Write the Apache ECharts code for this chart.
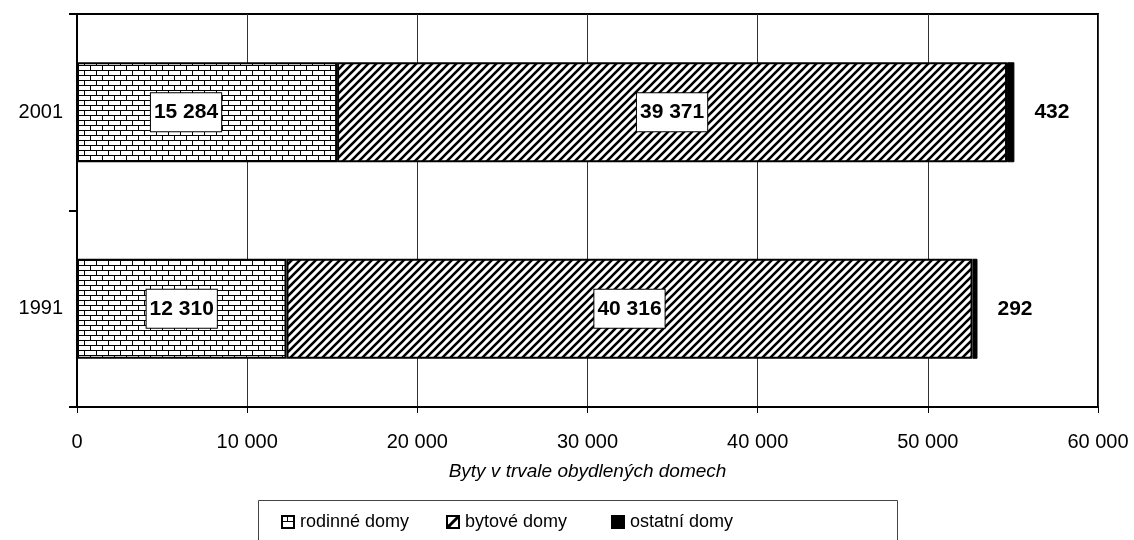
<!DOCTYPE html>
<html>
<head>
<meta charset="utf-8">
<script src="https://cdn.jsdelivr.net/npm/echarts@6/dist/echarts.min.js"></script>
<style>
html,body{margin:0;padding:0;background:#fff;}
#chart{width:1134px;height:540px;}
</style>
</head>
<body>
<div id="chart"></div>
<script>
var categories = ['1991', '2001'];
var seriesNames = ['rodinné domy', 'bytové domy', 'ostatní domy'];
var rodinne = [12310, 15284];
var bytove = [40316, 39371];
var ostatni = [292, 432];
var xTicks = [0, 10000, 20000, 30000, 40000, 50000, 60000];
var axisTitle = 'Byty v trvale obydlených domech';

var FONT = '"Liberation Sans", Arial, sans-serif';

function fmt(v) {
  return String(v).replace(/\B(?=(\d{3})+(?!\d))/g, ' ');
}

function makeCanvas(w, h) {
  var c = document.createElement('canvas');
  c.width = w; c.height = h;
  return c;
}

// brick pattern
var brick = makeCanvas(12, 10);
(function () {
  var g = brick.getContext('2d');
  g.fillStyle = '#fff'; g.fillRect(0, 0, 12, 10);
  g.fillStyle = '#000';
  g.fillRect(0, 0, 12, 1);
  g.fillRect(0, 5, 12, 1);
  g.fillRect(0, 0, 1, 5);
  g.fillRect(6, 5, 1, 5);
})();

// diagonal stripes
var stripe = makeCanvas(8, 8);
(function () {
  var g = stripe.getContext('2d');
  g.fillStyle = '#fff'; g.fillRect(0, 0, 8, 8);
  g.strokeStyle = '#000'; g.lineWidth = 2.6;
  g.beginPath();
  g.moveTo(-2, 10); g.lineTo(10, -2);
  g.moveTo(-2, 2); g.lineTo(2, -2);
  g.moveTo(6, 10); g.lineTo(10, 6);
  g.stroke();
})();

// legend icons
function iconRodinne() {
  var c = makeCanvas(14, 14), g = c.getContext('2d');
  g.fillStyle = '#000'; g.fillRect(0, 0, 14, 14);
  g.fillStyle = '#fff';
  g.fillRect(2, 2, 4, 4);
  g.fillRect(7, 2, 5, 4);
  g.fillRect(2, 7, 10, 5);
  return 'image://' + c.toDataURL();
}
function iconBytove() {
  var c = makeCanvas(14, 14), g = c.getContext('2d');
  g.fillStyle = '#000'; g.fillRect(0, 0, 14, 14);
  g.fillStyle = '#fff'; g.fillRect(2, 2, 10, 10);
  g.strokeStyle = '#000'; g.lineWidth = 3;
  g.beginPath(); g.moveTo(1, 13); g.lineTo(13, 1); g.stroke();
  g.fillStyle = '#000';
  g.beginPath(); g.moveTo(2, 12); g.lineTo(2, 9); g.lineTo(5, 12); g.fill();
  return 'image://' + c.toDataURL();
}
function iconOstatni() {
  var c = makeCanvas(14, 14), g = c.getContext('2d');
  g.fillStyle = '#000'; g.fillRect(0, 0, 14, 14);
  return 'image://' + c.toDataURL();
}

var boxLabel = {
  show: true,
  position: 'inside',
  formatter: function (p) { return fmt(p.value); },
  fontFamily: FONT,
  fontSize: 21,
  fontWeight: 'bold',
  color: '#000',
  backgroundColor: '#fff',
  borderColor: '#000',
  borderWidth: 1,
  padding: [10, 3, 7, 3]
};

var chart = echarts.init(document.getElementById('chart'), null, { renderer: 'canvas' });

var legendTextStyle = { fontFamily: FONT, fontSize: 18, color: '#000' };
function legendAt(name, icon, left) {
  return {
    data: [{ name: name, icon: icon }],
    left: left, top: 513,
    itemWidth: 14, itemHeight: 14, itemGap: 0,
    textStyle: legendTextStyle,
    selectedMode: false,
    padding: 0
  };
}

var option = {
  backgroundColor: '#fff',
  animation: false,
  grid: {
    left: 77, right: 36, top: 14, bottom: 133,
    show: true, borderColor: '#000', borderWidth: 2
  },
  legend: [
    legendAt(seriesNames[0], iconRodinne(), 281),
    legendAt(seriesNames[1], iconBytove(), 446),
    legendAt(seriesNames[2], iconOstatni(), 611)
  ],
  graphic: [{
    type: 'rect',
    shape: { x: 258.5, y: 500.5, width: 639, height: 60 },
    style: { fill: 'none', stroke: '#444', lineWidth: 1 }
  }],
  xAxis: {
    type: 'value',
    min: xTicks[0], max: xTicks[xTicks.length - 1], interval: xTicks[1] - xTicks[0],
    name: axisTitle,
    nameLocation: 'middle',
    nameGap: 55,
    nameTextStyle: { fontFamily: FONT, fontSize: 19, fontStyle: 'italic', color: '#000' },
    axisLine: { show: true, lineStyle: { color: '#000', width: 2 } },
    axisTick: { show: true, length: 6, lineStyle: { color: '#000', width: 1 } },
    axisLabel: { fontFamily: FONT, fontSize: 20, color: '#000', margin: 25, formatter: fmt },
    splitLine: { show: true, lineStyle: { color: '#333', width: 1 } }
  },
  yAxis: {
    type: 'category',
    data: categories,
    axisLine: { show: true, lineStyle: { color: '#000', width: 2 } },
    axisTick: { show: true, length: 8, inside: false, lineStyle: { color: '#000', width: 2 } },
    axisLabel: { fontFamily: FONT, fontSize: 20, color: '#000', margin: 14 },
    splitLine: { show: false }
  },
  series: [
    {
      name: seriesNames[0], type: 'bar', stack: 'a', barWidth: 100,
      data: rodinne.map(function (v, i) {
        var d = { value: v };
        if (i === 1) d.label = { offset: [-21, 0] };
        return d;
      }),
      itemStyle: { color: { image: brick, repeat: 'repeat' }, borderColor: '#000', borderWidth: 2 },
      label: boxLabel
    },
    {
      name: seriesNames[1], type: 'bar', stack: 'a', barWidth: 100,
      data: bytove,
      itemStyle: { color: { image: stripe, repeat: 'repeat' }, borderColor: '#000', borderWidth: 2 },
      label: boxLabel
    },
    {
      name: seriesNames[2], type: 'bar', stack: 'a', barWidth: 100,
      data: ostatni,
      itemStyle: { color: '#000', borderColor: '#000', borderWidth: 1 },
      label: {
        show: true, position: 'right', distance: 20,
        formatter: function (p) { return fmt(p.value); },
        fontFamily: FONT, fontSize: 21, fontWeight: 'bold', color: '#000'
      }
    }
  ]
};
chart.setOption(option);
</script>
</body>
</html>
